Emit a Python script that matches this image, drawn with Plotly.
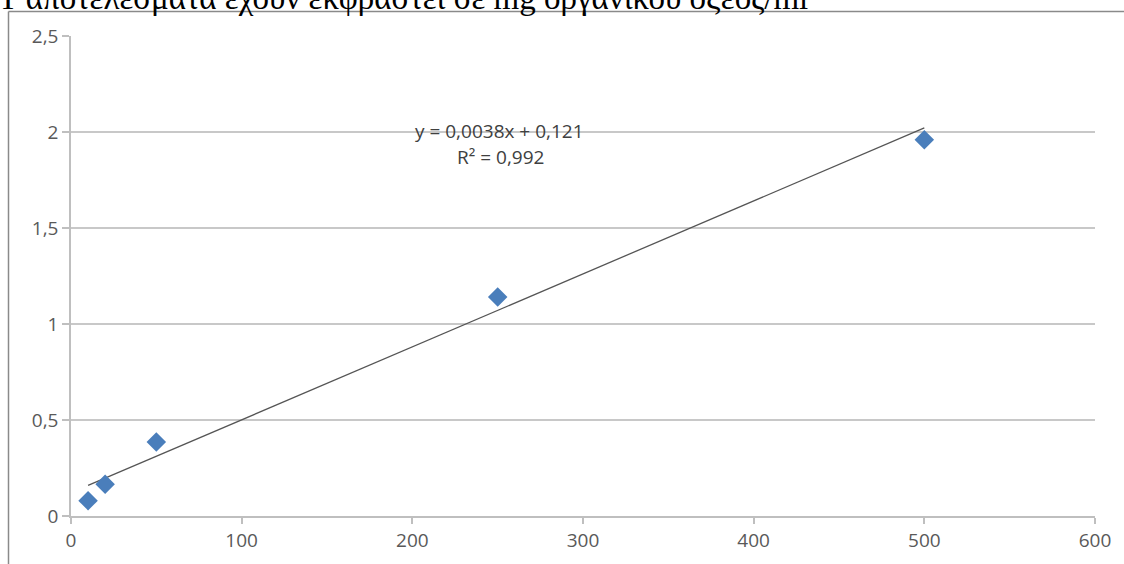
import plotly.graph_objects as go

# Data
x_vals = [10, 20, 50, 250, 500]
y_vals = [0.08, 0.165, 0.385, 1.14, 1.96]
slope = 0.0038
intercept = 0.121
eq_text = "y = 0,0038x + 0,121"
r2_text = "R² = 0,992"
caption = "Τ αποτελέσματα έχουν εκφραστεί σε mg οργανικού οξέος/ml"
x_ticks = [0, 100, 200, 300, 400, 500, 600]
y_ticks = [0, 0.5, 1, 1.5, 2, 2.5]

trend_x = [min(x_vals), max(x_vals)]
trend_y = [slope * v + intercept for v in trend_x]

fig = go.Figure()
fig.add_trace(go.Scatter(x=trend_x, y=trend_y, mode="lines",
                         line=dict(color="#555555", width=1.3), showlegend=False))
fig.add_trace(go.Scatter(x=x_vals, y=y_vals, mode="markers",
                         marker=dict(symbol="diamond", size=15, color="#4a7ebb",
                                     line=dict(width=0)), showlegend=False))

sans = "Open Sans, Noto Sans, sans-serif"
tickfont = dict(family=sans, size=19, color="#595959")
PW, PH = 1024, 480  # plot area size in px
fig.update_layout(
    width=1124, height=564,
    margin=dict(l=71, r=29, t=36, b=48),
    paper_bgcolor="white", plot_bgcolor="white",
    separators=",.",
    xaxis=dict(range=[0, 600], tickvals=x_ticks, showgrid=False, zeroline=False,
               showline=True, linecolor="#bfbfbf", linewidth=1.5,
               ticks="outside", ticklen=6, tickcolor="#bfbfbf", tickwidth=1.5,
               tickfont=tickfont),
    yaxis=dict(range=[0, 2.5], tickvals=y_ticks, showgrid=True, gridcolor="#c8c8c8",
               gridwidth=1.5, zeroline=False, showline=True, linecolor="#bfbfbf",
               linewidth=1.5, ticks="outside", ticklen=7, tickcolor="#bfbfbf",
               tickwidth=1.5, tickfont=tickfont),
    shapes=[
        dict(type="line", xref="paper", yref="paper", x0=(8.5 - 71) / PW, x1=(8.5 - 71) / PW,
             y0=(516 - 11.5) / PH, y1=-0.2, line=dict(color="#8a8a8a", width=1.5)),
        dict(type="line", xref="paper", yref="paper", x0=(8.5 - 71) / PW, x1=1.04,
             y0=(516 - 11.5) / PH, y1=(516 - 11.5) / PH, line=dict(color="#8a8a8a", width=1.5)),
    ],
    annotations=[
        dict(x=(499 - 71) / PW * 600, y=(516 - 131) / 192, xref="x", yref="y",
             text=eq_text, showarrow=False,
             font=dict(family=sans, size=19, color="#404040")),
        dict(x=(500 - 71) / PW * 600, y=(516 - 157) / 192, xref="x", yref="y",
             text=r2_text, showarrow=False,
             font=dict(family=sans, size=19, color="#404040")),
        dict(x=(-4 - 71) / PW, y=(516 - 18) / PH, xref="paper", yref="paper",
             xanchor="left", yanchor="bottom", text=caption, showarrow=False,
             font=dict(family="Liberation Serif, DejaVu Serif, serif", size=33, color="black")),
    ],
)

fig.write_html("out.html", config={"displayModeBar": False},
               post_script="document.body.style.margin='0';document.body.style.overflow='hidden';")
